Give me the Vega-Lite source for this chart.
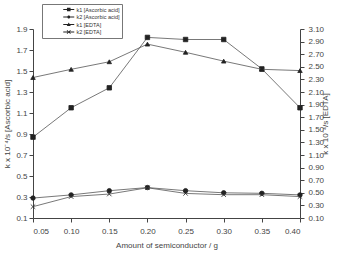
{
  "$schema": "https://vega.github.io/schema/vega-lite/v6.json",
  "width": 267,
  "height": 189,
  "autosize": "none",
  "padding": {"left": 33, "top": 29, "right": 39, "bottom": 36},
  "background": "white",
  "config": {
    "view": {"stroke": null},
    "font": "Liberation Sans",
    "axis": {
      "grid": false,
      "domainColor": "#444",
      "tickColor": "#444",
      "labelColor": "#444",
      "titleColor": "#444",
      "labelFontSize": 8,
      "titleFontSize": 8,
      "titleFontWeight": "normal",
      "tickSize": 4,
      "labelFont": "Liberation Sans",
      "titleFont": "Liberation Sans"
    }
  },
  "data": {
    "values": [
      {"x": 0.05, "series": "k1 [Ascorbic acid]", "group": "A", "value": 0.87},
      {"x": 0.10, "series": "k1 [Ascorbic acid]", "group": "A", "value": 1.15},
      {"x": 0.15, "series": "k1 [Ascorbic acid]", "group": "A", "value": 1.34},
      {"x": 0.20, "series": "k1 [Ascorbic acid]", "group": "A", "value": 1.82},
      {"x": 0.25, "series": "k1 [Ascorbic acid]", "group": "A", "value": 1.80},
      {"x": 0.30, "series": "k1 [Ascorbic acid]", "group": "A", "value": 1.80},
      {"x": 0.35, "series": "k1 [Ascorbic acid]", "group": "A", "value": 1.52},
      {"x": 0.40, "series": "k1 [Ascorbic acid]", "group": "A", "value": 1.15},
      {"x": 0.05, "series": "k2 [Ascorbic acid]", "group": "A", "value": 0.29},
      {"x": 0.10, "series": "k2 [Ascorbic acid]", "group": "A", "value": 0.32},
      {"x": 0.15, "series": "k2 [Ascorbic acid]", "group": "A", "value": 0.36},
      {"x": 0.20, "series": "k2 [Ascorbic acid]", "group": "A", "value": 0.39},
      {"x": 0.25, "series": "k2 [Ascorbic acid]", "group": "A", "value": 0.36},
      {"x": 0.30, "series": "k2 [Ascorbic acid]", "group": "A", "value": 0.34},
      {"x": 0.35, "series": "k2 [Ascorbic acid]", "group": "A", "value": 0.335},
      {"x": 0.40, "series": "k2 [Ascorbic acid]", "group": "A", "value": 0.32},
      {"x": 0.05, "series": "k1 [EDTA]", "group": "E", "value": 2.33},
      {"x": 0.10, "series": "k1 [EDTA]", "group": "E", "value": 2.46},
      {"x": 0.15, "series": "k1 [EDTA]", "group": "E", "value": 2.58},
      {"x": 0.20, "series": "k1 [EDTA]", "group": "E", "value": 2.86},
      {"x": 0.25, "series": "k1 [EDTA]", "group": "E", "value": 2.73},
      {"x": 0.30, "series": "k1 [EDTA]", "group": "E", "value": 2.59},
      {"x": 0.35, "series": "k1 [EDTA]", "group": "E", "value": 2.46},
      {"x": 0.40, "series": "k1 [EDTA]", "group": "E", "value": 2.44},
      {"x": 0.05, "series": "k2 [EDTA]", "group": "E", "value": 0.28},
      {"x": 0.10, "series": "k2 [EDTA]", "group": "E", "value": 0.44},
      {"x": 0.15, "series": "k2 [EDTA]", "group": "E", "value": 0.48},
      {"x": 0.20, "series": "k2 [EDTA]", "group": "E", "value": 0.58},
      {"x": 0.25, "series": "k2 [EDTA]", "group": "E", "value": 0.49},
      {"x": 0.30, "series": "k2 [EDTA]", "group": "E", "value": 0.47},
      {"x": 0.35, "series": "k2 [EDTA]", "group": "E", "value": 0.47},
      {"x": 0.40, "series": "k2 [EDTA]", "group": "E", "value": 0.44}
    ]
  },
  "encoding": {
    "x": {
      "field": "x",
      "type": "quantitative",
      "scale": {"domain": [0.05, 0.4], "nice": false, "zero": false},
      "axis": {
        "title": "Amount of semiconductor / g",
        "values": [0.05, 0.1, 0.15, 0.2, 0.25, 0.3, 0.35, 0.4],
        "format": ".2f",
        "labelPadding": 5,
        "titlePadding": 6
      }
    }
  },
  "layer": [
    {
      "transform": [{"filter": "datum.group === 'A'"}],
      "encoding": {
        "y": {
          "field": "value",
          "type": "quantitative",
          "scale": {"domain": [0.1, 1.9], "nice": false, "zero": false},
          "axis": {
            "orient": "left",
            "title": "k x 10⁻⁴/s [Ascorbic acid]",
            "values": [0.1, 0.3, 0.5, 0.7, 0.9, 1.1, 1.3, 1.5, 1.7, 1.9],
            "format": ".1f",
            "titlePadding": 4
          }
        }
      },
      "layer": [
        {
          "mark": {"type": "line", "color": "#555", "strokeWidth": 0.8},
          "encoding": {"detail": {"field": "series"}}
        },
        {
          "mark": {"type": "point", "filled": true, "color": "#222", "stroke": "#222", "strokeWidth": 0.8, "opacity": 1, "size": 20},
          "encoding": {
            "shape": {
              "field": "series",
              "type": "nominal",
              "scale": {
                "domain": ["k1 [Ascorbic acid]", "k2 [Ascorbic acid]"],
                "range": ["square", "circle"]
              },
              "legend": null
            }
          }
        }
      ]
    },
    {
      "transform": [{"filter": "datum.group === 'E'"}],
      "encoding": {
        "y": {
          "field": "value",
          "type": "quantitative",
          "scale": {"domain": [0.1, 3.1], "nice": false, "zero": false},
          "axis": {
            "orient": "right",
            "title": "k x 10⁻⁴/s [EDTA]",
            "titleAngle": 270,
            "values": [0.1, 0.3, 0.5, 0.7, 0.9, 1.1, 1.3, 1.5, 1.7, 1.9, 2.1, 2.3, 2.5, 2.7, 2.9, 3.1],
            "format": ".2f",
            "labelPadding": 4,
            "titlePadding": 6
          }
        }
      },
      "layer": [
        {
          "mark": {"type": "line", "color": "#555", "strokeWidth": 0.8},
          "encoding": {"detail": {"field": "series"}}
        },
        {
          "mark": {"type": "point", "filled": true, "color": "#222", "stroke": "#222", "strokeWidth": 0.8, "opacity": 1, "size": 20},
          "encoding": {
            "shape": {
              "field": "series",
              "type": "nominal",
              "scale": {
                "domain": ["k1 [EDTA]", "k2 [EDTA]"],
                "range": ["triangle-up", "M-1,-1L1,1M-1,1L1,-1"]
              },
              "legend": null
            }
          }
        }
      ]
    },
    {
      "transform": [{"filter": "datum.x < 0"}],
      "mark": {"type": "point", "filled": true, "color": "#222", "stroke": "#333", "strokeWidth": 0.7, "opacity": 1, "size": 16},
      "encoding": {
        "y": {"field": "value", "type": "quantitative", "axis": null, "scale": {"domain": [0.1, 1.9]}},
        "shape": {
          "field": "series",
          "type": "nominal",
          "scale": {
            "domain": ["k1 [Ascorbic acid]", "k2 [Ascorbic acid]", "k1 [EDTA]", "k2 [EDTA]"],
            "range": [
              "M-2.75,-0.2H2.75V0.2H-2.75ZM-0.9,-0.9H0.9V0.9H-0.9Z",
              "M-2.75,-0.2H2.75V0.2H-2.75ZM-0.75,0A0.75,0.75,0,1,1,0.75,0A0.75,0.75,0,1,1,-0.75,0Z",
              "M-2.75,-0.2H2.75V0.2H-2.75ZM0,-1L1,0.8H-1Z",
              "M-2.75,-0.2H2.75V0.2H-2.75ZM-0.77,-1.03L1.03,0.77L0.77,1.03L-1.03,-0.77ZM-1.03,0.77L0.77,-1.03L1.03,-0.77L-0.77,1.03Z"
            ]
          },
          "legend": {
            "title": null,
            "orient": "none",
            "legendX": 9,
            "legendY": -25,
            "strokeColor": "#777",
            "fillColor": "white",
            "padding": 2,
            "rowPadding": 0.5,
            "clipHeight": 7,
            "labelFontSize": 5.5,
            "labelColor": "#333",
            "labelOffset": 5,
            "symbolSize": 16,
            "symbolOffset": 22,
            "symbolFillColor": "#333",
            "symbolStrokeColor": "#333",
            "symbolStrokeWidth": 0.7,
            "labelLimit": 200
          }
        }
      }
    }
  ],
  "resolve": {"scale": {"y": "independent", "shape": "independent"}}
}
